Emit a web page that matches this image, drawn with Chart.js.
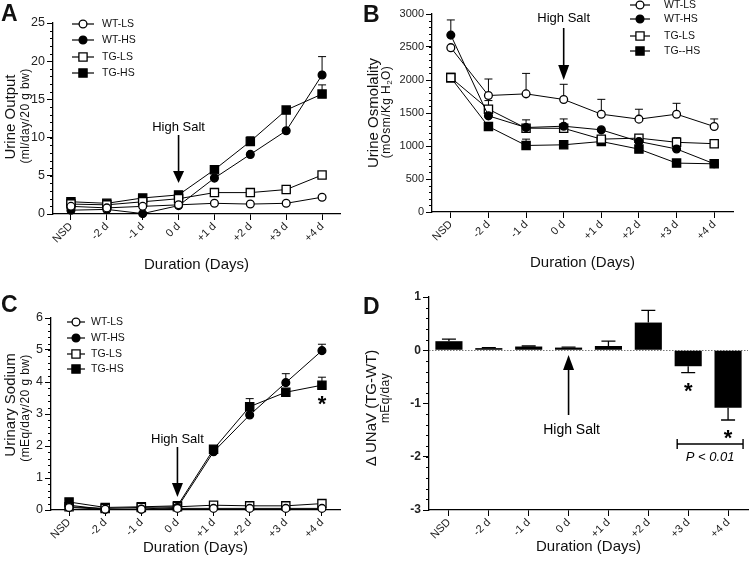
<!DOCTYPE html>
<html>
<head>
<meta charset="utf-8">
<script src="https://cdn.jsdelivr.net/npm/chart.js@4.4.1/dist/chart.umd.min.js"></script>
<style>
  body { margin: 0; background: #fff; }
  #page { position: relative; width: 750px; height: 573px; overflow: hidden; font-family: "Liberation Sans", Arial, sans-serif; color: #111; }
  .panel { position: absolute; }
  .ytitle { position: absolute; white-space: nowrap; transform: translate(-50%, -50%) rotate(-90deg); line-height: 1; }
  .main { font-size: 15px; }
  .sub { font-size: 12px; letter-spacing: 0.4px; }
  .sub sub { font-size: 8px; vertical-align: -2px; }
  .letter { position: absolute; font-weight: bold; font-size: 23px; line-height: 1; }
</style>
</head>
<body>
<div id="page">
  <canvas id="chartA" class="panel" width="375" height="287" style="left:0;top:0"></canvas>
  <canvas id="chartB" class="panel" width="375" height="287" style="left:375px;top:0"></canvas>
  <canvas id="chartC" class="panel" width="375" height="286" style="left:0;top:287px"></canvas>
  <canvas id="chartD" class="panel" width="375" height="286" style="left:375px;top:287px"></canvas>

  <div class="letter" style="left:1px;top:2px">A</div>
  <div class="letter" style="left:363px;top:3px">B</div>
  <div class="letter" style="left:1px;top:293px">C</div>
  <div class="letter" style="left:363px;top:295px">D</div>

  <div class="ytitle main" style="left:9px;top:117px">Urine Output</div>
  <div class="ytitle sub" style="left:25px;top:116px">(ml/day/20 g bw)</div>
  <div class="ytitle main" style="left:372px;top:113px">Urine Osmolality</div>
  <div class="ytitle sub" style="left:387px;top:112px">(mOsm/Kg H<sub>2</sub>O)</div>
  <div class="ytitle main" style="left:9px;top:405px">Urinary Sodium</div>
  <div class="ytitle sub" style="left:25px;top:408px">(mEq/day/20 g bw)</div>
  <div class="ytitle main" style="left:370px;top:408px">Δ UNaV (TG-WT)</div>
  <div class="ytitle sub" style="left:385px;top:398px">mEq/day</div>
</div>

<script>
const days = ['NSD', '-2 d', '-1 d', '0 d', '+1 d', '+2 d', '+3 d', '+4 d'];

// A: urine output, ml/day/20 g bw
const outWtLs = [1.0, 0.8, 1.0, 1.2, 1.4, 1.3, 1.4, 2.2];
const outWtHs = [0.5, 0.6, 0.05, 1.1, 4.7, 7.8, 10.9, 18.2];
const outWtHsErr = [0, 0, 0, 0, 0, 0, 2.5, 2.4];
const outTgLs = [1.3, 1.2, 1.6, 2.0, 2.8, 2.8, 3.2, 5.1];
const outTgHs = [1.6, 1.4, 2.1, 2.5, 5.8, 9.5, 13.6, 15.7];
const outTgHsErr = [0, 0, 0, 0, 0, 0.6, 0, 1.2];

// B: urine osmolality, mOsm/Kg H2O
const osmWtLs = [2490, 1765, 1790, 1705, 1482, 1407, 1482, 1295];
const osmWtLsErr = [0, 250, 310, 230, 225, 150, 165, 115];
const osmWtHs = [2680, 1457, 1280, 1300, 1245, 1068, 955, 730];
const osmWtHsErr = [230, 0, 0, 110, 0, 0, 0, 0];
const osmTgLs = [2036, 1558, 1270, 1268, 1104, 1119, 1056, 1035];
const osmTgLsErr = [0, 130, 126, 0, 0, 0, 70, 0];
const osmTgHs = [2036, 1295, 1008, 1018, 1068, 953, 741, 730];
const osmTgHsErr = [0, 0, 96, 0, 0, 0, 0, 0];

// C: urinary sodium, mEq/day/20 g bw
const naWtLs = [0.08, 0.02, 0.02, 0.05, 0.05, 0.05, 0.05, 0.05];
const naWtHs = [0.15, 0.02, 0.03, 0.08, 1.82, 2.97, 3.98, 4.98];
const naWtHsErr = [0, 0, 0, 0, 0, 0, 0.28, 0.2];
const naTgLs = [0.1, 0.05, 0.08, 0.1, 0.15, 0.13, 0.13, 0.2];
const naTgHs = [0.25, 0.08, 0.1, 0.13, 1.9, 3.23, 3.68, 3.9];
const naTgHsErr = [0, 0, 0, 0, 0, 0.25, 0, 0.25];

// D: difference in sodium excretion (TG - WT), mEq/day
const dUnav = [0.17, 0.04, 0.07, 0.05, 0.08, 0.52, -0.3, -1.08];
const dUnavErr = [0.04, 0.01, 0.01, 0.01, 0.09, 0.23, 0.12, 0.23];

const FONT = '"Liberation Sans", Arial, sans-serif';

// error bars, minor ticks, key and notes, all placed through the chart's scales
const extras = {
  id: 'extras',
  beforeDatasetsDraw(chart, args, opts) {
    const ctx = chart.ctx, xs = chart.scales.x, ys = chart.scales.y, area = chart.chartArea;
    ctx.save();
    if (opts.zeroLine) {
      ctx.strokeStyle = '#777';
      ctx.lineWidth = 1;
      ctx.setLineDash([1.5, 1.5]);
      const y0 = Math.round(ys.getPixelForValue(0)) + 0.5;
      ctx.beginPath(); ctx.moveTo(area.left, y0); ctx.lineTo(area.right, y0); ctx.stroke();
      ctx.setLineDash([]);
    }
    ctx.strokeStyle = '#000';
    ctx.lineWidth = opts.errWidth || 1;
    chart.data.datasets.forEach(ds => {
      if (!ds.err) return;
      ds.data.forEach((v, i) => {
        const e = ds.err[i];
        if (!e) return;
        const dir = v < 0 ? -1 : 1;
        const px = xs.getPixelForValue(i);
        const y0 = ys.getPixelForValue(v), y1 = ys.getPixelForValue(v + dir * e);
        ctx.beginPath();
        ctx.moveTo(px, y0); ctx.lineTo(px, y1);
        ctx.moveTo(px - opts.cap, y1); ctx.lineTo(px + opts.cap, y1);
        ctx.stroke();
      });
    });
    ctx.restore();
  },
  afterDraw(chart, args, opts) {
    const ctx = chart.ctx, xs = chart.scales.x, ys = chart.scales.y, area = chart.chartArea;
    ctx.save();
    // minor ticks on the y axis
    ctx.strokeStyle = '#000';
    ctx.lineWidth = 1;
    for (let v = ys.min; v <= ys.max + 1e-9; v += opts.minor) {
      const py = Math.round(ys.getPixelForValue(v)) + 0.5;
      ctx.beginPath(); ctx.moveTo(area.left - 3, py); ctx.lineTo(area.left, py); ctx.stroke();
    }
    // key
    if (opts.key) {
      const k = opts.key;
      chart.data.datasets.forEach((ds, i) => {
        const y = k.rows[i];
        ctx.strokeStyle = '#000';
        ctx.lineWidth = 1.2;
        ctx.beginPath(); ctx.moveTo(k.cx - k.half, y); ctx.lineTo(k.cx + k.half, y); ctx.stroke();
        ctx.fillStyle = ds.pointBackgroundColor;
        ctx.lineWidth = ds.pointBorderWidth;
        Chart.helpers.drawPoint(ctx, { pointStyle: ds.pointStyle, radius: ds.pointRadius, borderWidth: ds.pointBorderWidth }, k.cx, y);
        ctx.fillStyle = '#111';
        ctx.font = '10.5px ' + FONT;
        ctx.textAlign = 'left';
        ctx.textBaseline = 'middle';
        ctx.fillText(ds.label, k.tx, y);
      });
    }
    // notes
    (opts.notes || []).forEach(n => {
      const px = xs.getPixelForValue(days.indexOf(n.cat)) + (n.dx || 0);
      ctx.fillStyle = '#000';
      ctx.strokeStyle = '#000';
      if (n.kind === 'text') {
        ctx.font = (n.font || '13px ') + FONT;
        ctx.textAlign = 'center';
        ctx.textBaseline = 'middle';
        ctx.fillText(n.text, px, n.y);
      } else if (n.kind === 'star') {
        ctx.font = 'bold 22px ' + FONT;
        ctx.textAlign = 'center';
        ctx.textBaseline = 'alphabetic';
        ctx.fillText('*', px, n.y + 12.5);
      } else if (n.kind === 'arrow') {
        const dir = n.to > n.from ? 1 : -1;
        ctx.lineWidth = 1.6;
        ctx.beginPath(); ctx.moveTo(px, n.from); ctx.lineTo(px, n.to - dir * n.head); ctx.stroke();
        ctx.beginPath();
        ctx.moveTo(px, n.to);
        ctx.lineTo(px - 5.5, n.to - dir * n.head);
        ctx.lineTo(px + 5.5, n.to - dir * n.head);
        ctx.closePath(); ctx.fill();
      } else if (n.kind === 'bracket') {
        const x1 = xs.getPixelForValue(days.indexOf(n.from)) + n.dx1;
        const x2 = xs.getPixelForValue(days.indexOf(n.to)) + n.dx2;
        ctx.lineWidth = 1.4;
        ctx.beginPath();
        ctx.moveTo(x1, n.y); ctx.lineTo(x2, n.y);
        ctx.moveTo(x1, n.y - 5); ctx.lineTo(x1, n.y + 5);
        ctx.moveTo(x2, n.y - 5); ctx.lineTo(x2, n.y + 5);
        ctx.stroke();
        ctx.font = 'italic 13px ' + FONT;
        ctx.textAlign = 'center';
        ctx.textBaseline = 'middle';
        ctx.fillText(n.text, (x1 + x2) / 2, n.y + 13);
      }
    });
    ctx.restore();
  }
};

function series(label, data, err, style, filled) {
  return {
    label, data, err,
    borderColor: '#000', borderWidth: 1,
    pointStyle: style, pointRadius: style === 'rect' ? 5.8 : 3.9,
    pointBackgroundColor: filled ? '#000' : '#fff',
    pointBorderColor: '#000', pointBorderWidth: 1.3,
    tension: 0, clip: false, fill: false
  };
}

function xAxis(height) {
  return {
    type: 'category', offset: true,
    grid: { drawOnChartArea: false, offset: false, tickColor: '#000', tickLength: 6 },
    border: { color: '#000', width: 1.3 },
    ticks: { color: '#222', font: { family: FONT, size: 11 }, minRotation: 45, maxRotation: 45, padding: 0, autoSkip: false },
    title: { display: true, text: 'Duration (Days)', color: '#111', font: { family: FONT, size: 15 }, padding: 0 },
    afterFit: s => { s.height = height; }
  };
}

function yAxis(min, max, step, width, size, weight) {
  return {
    min, max,
    grid: { drawOnChartArea: false, tickColor: '#000', tickLength: 6 },
    border: { color: '#000', width: 1.3 },
    ticks: { stepSize: step, color: '#222', font: { family: FONT, size, weight }, padding: 2, callback: v => String(v) },
    afterFit: s => { s.width = width; }
  };
}

function makeChart(id, type, datasets, scales, padding, extra) {
  return new Chart(document.getElementById(id), {
    type,
    data: { labels: days, datasets },
    options: {
      responsive: false, animation: false, devicePixelRatio: 1,
      layout: { padding },
      plugins: { legend: { display: false }, tooltip: { enabled: false }, extras: extra },
      scales
    },
    plugins: [extras]
  });
}

makeChart('chartA', 'line', [
  series('WT-LS', outWtLs, null, 'circle', false),
  series('WT-HS', outWtHs, outWtHsErr, 'circle', true),
  series('TG-LS', outTgLs, null, 'rect', false),
  series('TG-HS', outTgHs, outTgHsErr, 'rect', true)
], { x: xAxis(60), y: yAxis(0, 25, 5, 53, 12.5) },
  { left: 0, top: 23, right: 35, bottom: 13 },
  { minor: 1, cap: 4,
    key: { cx: 83, half: 11, tx: 102, rows: [24, 40, 57, 73] },
    notes: [
      { kind: 'text', cat: '0 d', y: 127, text: 'High Salt' },
      { kind: 'arrow', cat: '0 d', from: 135, to: 183, head: 12 }
    ] });

makeChart('chartB', 'line', [
  series('WT-LS', osmWtLs, osmWtLsErr, 'circle', false),
  series('WT-HS', osmWtHs, osmWtHsErr, 'circle', true),
  series('TG-LS', osmTgLs, osmTgLsErr, 'rect', false),
  series('TG--HS', osmTgHs, osmTgHsErr, 'rect', true)
], { x: xAxis(60), y: yAxis(0, 3000, 500, 57, 11) },
  { left: 0, top: 14, right: 17, bottom: 15 },
  { minor: 100, cap: 4,
    key: { cx: 265, half: 10, tx: 289, rows: [5, 19, 36, 51] },
    notes: [
      { kind: 'text', cat: '0 d', y: 18, text: 'High Salt' },
      { kind: 'arrow', cat: '0 d', from: 28, to: 80, head: 15 }
    ] });

makeChart('chartC', 'line', [
  series('WT-LS', naWtLs, null, 'circle', false),
  series('WT-HS', naWtHs, naWtHsErr, 'circle', true),
  series('TG-LS', naTgLs, null, 'rect', false),
  series('TG-HS', naTgHs, naTgHsErr, 'rect', true)
], { x: xAxis(47), y: yAxis(0, 6, 1, 51, 12.5) },
  { left: 0, top: 31, right: 35, bottom: 16 },
  { minor: 0.2, cap: 4,
    key: { cx: 76, half: 9, tx: 91, rows: [35, 51, 67, 82] },
    notes: [
      { kind: 'text', cat: '0 d', y: 152, text: 'High Salt' },
      { kind: 'arrow', cat: '0 d', from: 160, to: 210, head: 14 },
      { kind: 'star', cat: '+4 d', y: 111 }
    ] });

makeChart('chartD', 'bar', [
  { label: 'TG-WT', data: dUnav, err: dUnavErr, backgroundColor: '#000', borderWidth: 0, barPercentage: 0.68, categoryPercentage: 1 }
], { x: xAxis(46), y: yAxis(-3, 1, 1, 54, 12, 'bold') },
  { left: 0, top: 10, right: 2, bottom: 17 },
  { minor: 0.2, cap: 7, errWidth: 1.3, zeroLine: true,
    notes: [
      { kind: 'arrow', cat: '0 d', from: 128, to: 68, head: 15 },
      { kind: 'text', cat: '0 d', dx: 3, y: 143, text: 'High Salt', font: '14px ' },
      { kind: 'star', cat: '+3 d', y: 98 },
      { kind: 'star', cat: '+4 d', y: 145 },
      { kind: 'bracket', from: '+3 d', to: '+4 d', dx1: -11, dx2: 15, y: 157, text: 'P < 0.01' }
    ] });
</script>
</body>
</html>
